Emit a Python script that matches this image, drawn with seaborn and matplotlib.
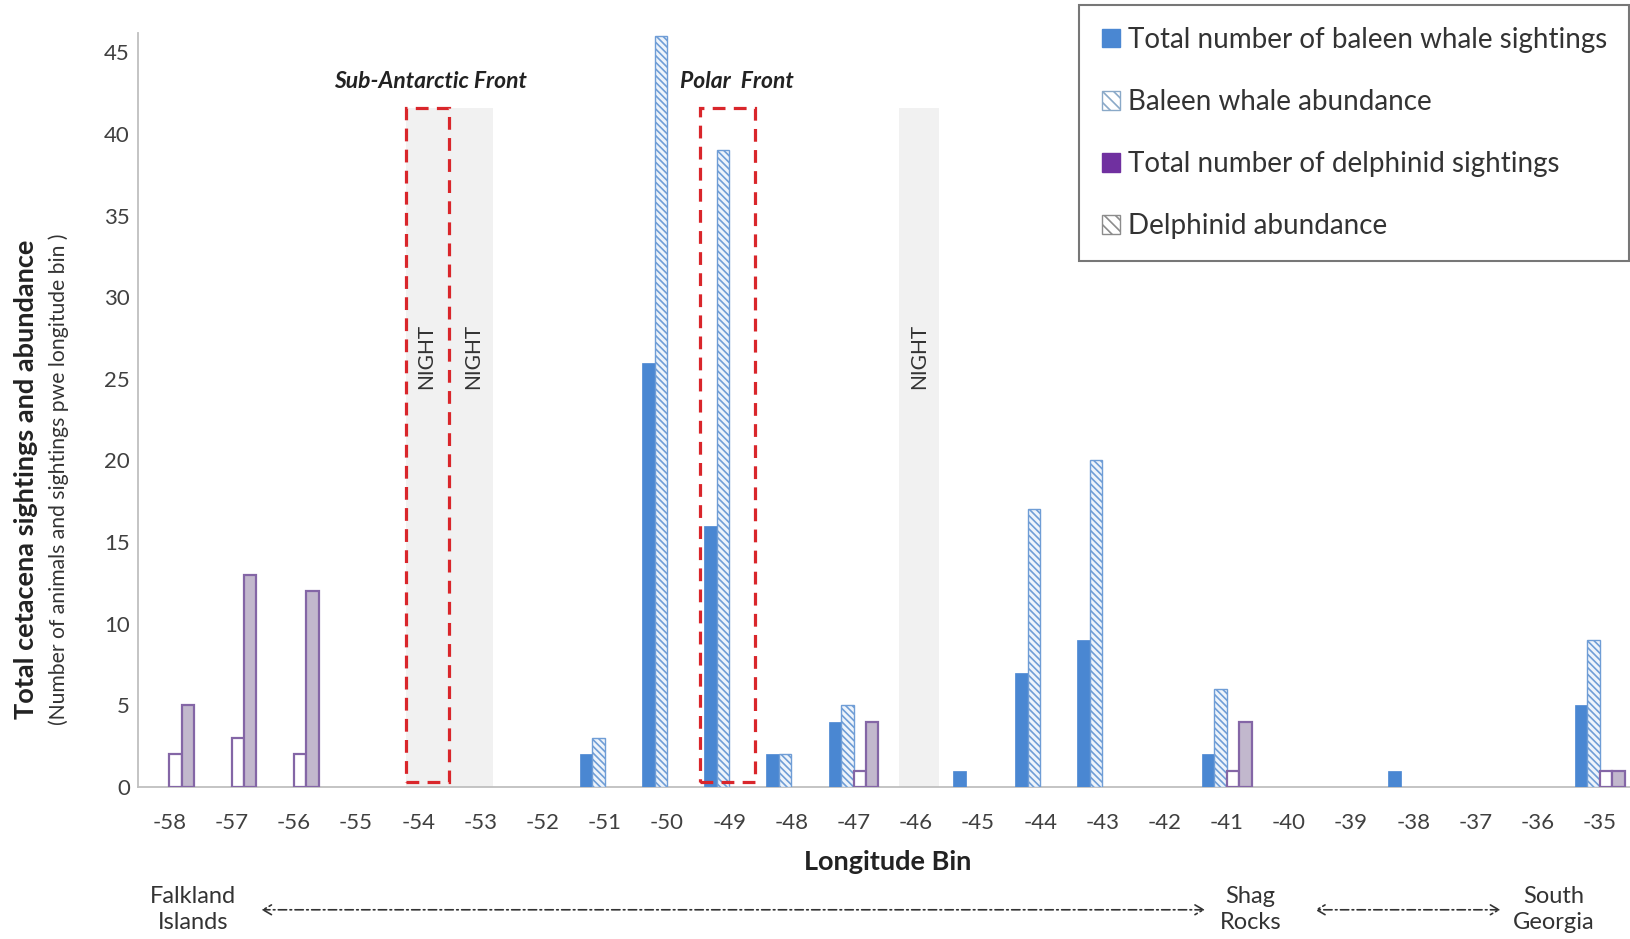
import numpy as np
import pandas as pd
import matplotlib
matplotlib.use("Agg")
import matplotlib.pyplot as plt
import seaborn as sns
from matplotlib.patches import Patch, Rectangle

# ---------------- data ----------------
longitudes = [-58, -57, -56, -55, -54, -53, -52, -51, -50, -49, -48, -47,
              -46, -45, -44, -43, -42, -41, -40, -39, -38, -37, -36, -35]
baleen_sightings = [0, 0, 0, 0, 0, 0, 0, 2, 26, 16, 2, 4,
                    0, 1, 7, 9, 0, 2, 0, 0, 1, 0, 0, 5]
baleen_abundance = [0, 0, 0, 0, 0, 0, 0, 3, 46, 39, 2, 5,
                    0, 0, 17, 20, 0, 6, 0, 0, 0, 0, 0, 9]
delphinid_sightings = [2, 3, 2, 0, 0, 0, 0, 0, 0, 0, 0, 1,
                       0, 0, 0, 0, 0, 1, 0, 0, 0, 0, 0, 1]
delphinid_abundance = [5, 13, 12, 0, 0, 0, 0, 0, 0, 0, 0, 4,
                       0, 0, 0, 0, 0, 4, 0, 0, 0, 0, 0, 1]
series_names = ["Total number of baleen whale sightings",
                "Baleen whale abundance",
                "Total number of delphinid sightings",
                "Delphinid abundance"]
y_ticks = [0, 5, 10, 15, 20, 25, 30, 35, 40, 45]

cat_labels = [str(v) for v in longitudes]
df = pd.DataFrame({
    "Longitude": cat_labels * 4,
    "Series": np.repeat(series_names, len(longitudes)),
    "Value": baleen_sightings + baleen_abundance + delphinid_sightings + delphinid_abundance,
})

# ---------------- style ----------------
sns.set_style("white")
plt.rcParams["font.family"] = ["Lato", "DejaVu Sans"]
plt.rcParams["hatch.linewidth"] = 1.2

BLUE = "#4a87d2"
LBLUE = "#6f9dd6"
PURPLE = "#7030a0"
PURP_EDGE = "#8466a6"
LAV = "#c2b8cd"
TXT = "#404040"

palette = {series_names[0]: BLUE, series_names[1]: "white",
           series_names[2]: "white", series_names[3]: LAV}

fig = plt.figure(figsize=(16.31, 9.39), dpi=100)
ax = fig.add_axes([0.0848, 0.162, 0.9152, 0.803])

sns.barplot(data=df, x="Longitude", y="Value", hue="Series", order=cat_labels,
            hue_order=series_names, palette=palette, saturation=1, width=0.8,
            errorbar=None, legend=False, ax=ax, zorder=3)

styles = [
    dict(facecolor=BLUE, edgecolor=BLUE, hatch=None, lw=0.5),
    dict(facecolor="#eef4fb", edgecolor=LBLUE, hatch="\\\\\\\\\\", lw=1.0),
    dict(facecolor="white", edgecolor=PURP_EDGE, hatch=None, lw=1.6),
    dict(facecolor=LAV, edgecolor=PURP_EDGE, hatch=None, lw=1.6),
]
for cont, st in zip(ax.containers, styles):
    for bar in cont:
        bar.set_facecolor(st["facecolor"])
        bar.set_edgecolor(st["edgecolor"])
        bar.set_linewidth(st["lw"])
        if st["hatch"]:
            bar.set_hatch(st["hatch"])
        if bar.get_height() == 0:
            bar.set_visible(False)

# ---------------- night bands & fronts ----------------
ax.add_patch(Rectangle((3.8, 0), 1.4, 41.6, facecolor="#f1f1f1", edgecolor="none", zorder=0))
ax.add_patch(Rectangle((11.73, 0), 0.65, 41.6, facecolor="#f1f1f1", edgecolor="none", zorder=0))
dash = (0, (4, 2.6))
ax.add_patch(Rectangle((3.8, 0.3), 0.7, 41.3, fill=False, edgecolor="#d9262b",
                       linewidth=2.3, linestyle=dash, zorder=4))
ax.add_patch(Rectangle((8.53, 0.3), 0.89, 41.3, fill=False, edgecolor="#d9262b",
                       linewidth=2.3, linestyle=dash, zorder=4))

for xpos in [4.12, 4.88, 12.05]:
    ax.text(xpos, 26.4, "NIGHT", rotation=90, ha="center", va="center",
            fontsize=15, color="#333333", zorder=5)
ax.text(4.2, 43.2, "Sub-Antarctic Front", ha="center", va="center", fontsize=16.5,
        fontweight="bold", fontstyle="italic", color="#222222")
ax.text(9.13, 43.2, "Polar  Front", ha="center", va="center", fontsize=16.5,
        fontweight="bold", fontstyle="italic", color="#222222")

# ---------------- axes ----------------
ax.set_xlim(-0.5, 23.5)
ax.set_ylim(0, 46.2)
ax.set_yticks(y_ticks)
ax.set_yticklabels([str(t) for t in y_ticks], fontsize=16, color=TXT)
ax.set_xticks(range(len(cat_labels)))
ax.set_xticklabels(cat_labels, fontsize=16, color=TXT)
ax.set_xticks(np.arange(-0.5, 23.6, 1), minor=True)
ax.tick_params(axis="x", which="major", length=0, pad=19)
ax.tick_params(axis="x", which="minor", length=7, width=1.2, color="#bfbfbf", direction="out")
ax.tick_params(axis="y", length=5, width=1.0, color="#bfbfbf", direction="out", pad=1)
ax.set_xlabel("")
ax.set_ylabel("")
for s in ["top", "right"]:
    ax.spines[s].set_visible(False)
for s in ["left", "bottom"]:
    ax.spines[s].set_color("#bfbfbf")
    ax.spines[s].set_linewidth(1.3)

fig.text(0.544, 0.082, "Longitude Bin", ha="center", va="center", fontsize=19.5,
         fontweight="bold", color="#222222")
fig.text(0.016, 0.49, "Total cetacena sightings and abundance", rotation=90,
         ha="center", va="center", fontsize=19.5, fontweight="bold", color="#222222")
fig.text(0.036, 0.49, "(Number of animals and sightings pwe longitude bin )",
         rotation=90, ha="center", va="center", fontsize=15.2, color="#333333")

# ---------------- bottom location annotations ----------------
trans = ax.get_xaxis_transform()
yy = -0.163
for xpos, lab in [(0.38, "Falkland\nIslands"), (17.38, "Shag\nRocks"), (22.25, "South\nGeorgia")]:
    ax.text(xpos, yy, lab, transform=trans, ha="center", va="center", fontsize=17,
            color="#333333", linespacing=1.3, clip_on=False)
for x0, x1 in [(1.48, 16.65), (18.42, 21.4)]:
    ax.annotate("", xy=(x0, yy), xytext=(x1, yy), xycoords=trans, textcoords=trans,
                arrowprops=dict(arrowstyle="<->,head_length=0.6,head_width=0.35",
                                linestyle=(0, (5, 2, 1, 2)), lw=1.2, color="#333333",
                                shrinkA=0, shrinkB=0),
                annotation_clip=False)

# ---------------- legend ----------------
handles = [
    Patch(facecolor=BLUE, edgecolor=BLUE),
    Patch(facecolor="white", edgecolor="#8aa9c8", hatch="\\\\\\"),
    Patch(facecolor=PURPLE, edgecolor=PURPLE),
    Patch(facecolor="white", edgecolor="#8c8c8c", hatch="\\\\\\"),
]
leg = fig.legend(handles, series_names, loc="upper right", bbox_to_anchor=(0.999, 0.995),
                 fontsize=20, frameon=True, fancybox=False, edgecolor="#555555",
                 handlelength=0.65, handleheight=0.65, handletextpad=0.3,
                 labelspacing=1.3, borderpad=0.8, borderaxespad=0.0)
leg.get_frame().set_linewidth(1.5)
for t in leg.get_texts():
    t.set_color("#333333")

fig.savefig("out.png", dpi=100)
